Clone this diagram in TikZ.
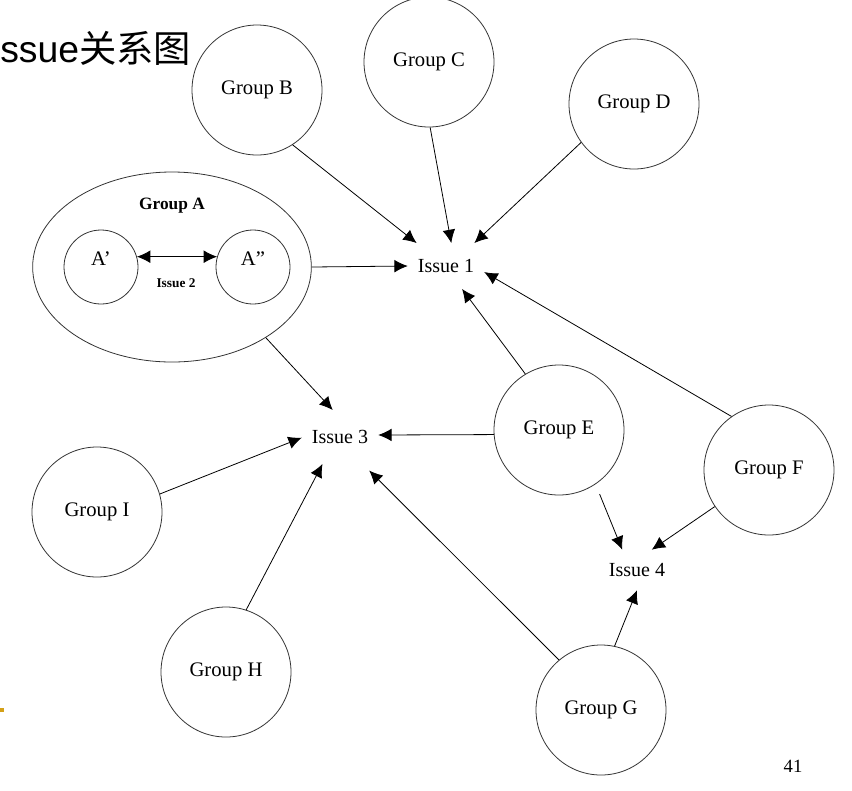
\documentclass[tikz,border=0pt]{standalone}
\usepackage{fontspec}
\setmainfont{Liberation Serif}
\newfontfamily\titlefont{Liberation Sans}
\newfontfamily\cjkfont{Noto Sans CJK SC}
\usetikzlibrary{shapes.geometric,arrows.meta}
\definecolor{slidegold}{RGB}{212,160,23}

\begin{document}
\begin{tikzpicture}[x=0.75pt, y=-0.75pt,
    group/.style={circle, draw=black!80, line width=0.6pt, minimum size=97.5pt, inner sep=0pt, font=\fontsize{15.5}{18}\selectfont},
    member/.style={circle, draw=black!80, line width=0.6pt, minimum size=55.5pt, inner sep=0pt, text depth=12pt, font=\fontsize{15.5}{18}\selectfont},
    issue/.style={rectangle, minimum width=57pt, minimum height=34pt, inner sep=0pt, font=\fontsize{15}{18}\selectfont},
    link/.style={-{Latex[length=10pt,width=9.5pt]}, line width=0.6pt}]
    \useasboundingbox (0,0) rectangle (852,790);

    % Title and slide marks
    \node[anchor=base west, inner sep=0pt, font=\fontsize{28}{30}\selectfont] (title) at (0,62) {\titlefont ssue\cjkfont 关系图};
    \fill[slidegold] (0,708) rectangle (4,712);
    \node[font=\fontsize{14}{16}\selectfont] (page) at (793,766) {41};

    % Group A with its two parts
    \node[ellipse, draw=black!80, line width=0.6pt, minimum width=209pt, minimum height=142.5pt] (A) at (172,267) {};
    \node[font=\bfseries\fontsize{13}{15}\selectfont] (Aname) at (172,206) {Group A};
    \node[member] (A1) at (101,267) {A’};
    \node[member] (A2) at (253,267) {A”};
    \draw[{Latex[length=10pt,width=9.5pt]}-{Latex[length=10pt,width=9.5pt]}, line width=0.6pt] (A1.16) -- (A2.164);
    \node[font=\bfseries\fontsize{10}{12}\selectfont] (I2) at (176,283) {Issue 2};

    % Other groups
    \foreach \name/\x/\y in {B/257/90, C/429/62, D/634/104, E/559/430, F/769/470, G/601/710, H/226/672, I/97/512} {
        \node[group] (\name) at (\x,\y) {Group \name};
    }

    % Issues
    \node[issue] (I1) at (446,266) {Issue 1};
    \node[issue, minimum height=40pt] (I3) at (340,437) {Issue 3};
    \node[issue, minimum height=30pt] (I4) at (637,570) {Issue 4};

    % Links
    \foreach \from/\to in {B.303/I1.142, C.271/I1.77, D.216/I1.39, A.east/I1.west, E.121/I1.305, F.125/I1.351, A.323/I3.105, I.16/I3.181, E.184/I3.3, H.72/I3.237, F.214/I4.54, G.78/I4.south} {
        \draw[link] (\from) -- (\to);
    }
    \draw[link, shorten <=8pt] (E.304) -- (I4.126);
    \draw[link, shorten >=7pt] (G.130) -- (I3.310);
\end{tikzpicture}
\end{document}
